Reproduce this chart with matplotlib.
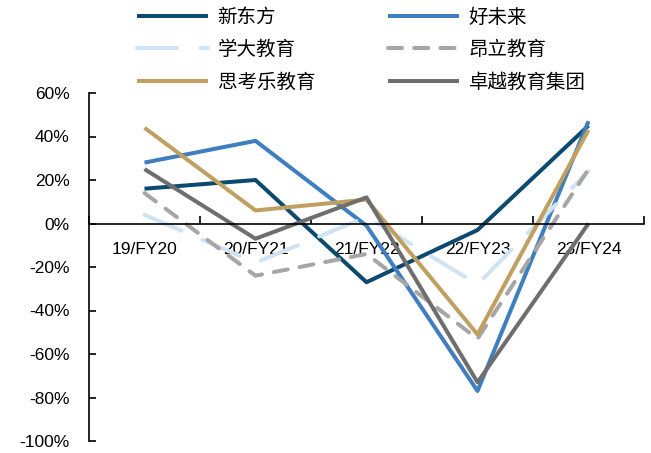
import matplotlib
matplotlib.use('Agg')
import matplotlib.pyplot as plt
from matplotlib.ticker import FixedLocator, FuncFormatter

plt.rcParams['font.family'] = ['Liberation Sans', 'DejaVu Sans']

categories = ['19/FY20', '20/FY21', '21/FY22', '22/FY23', '23/FY24']

xdf = [16, 20, -27, -3, 45]          # 新东方
tal = [28, 38, -1, -77, 47]          # 好未来
xueda = [4, -18, 3, -28, 24]         # 学大教育
angli = [14, -24, -14, -53, 25]      # 昂立教育
sikaole = [44, 6, 11, -51, 43]       # 思考乐教育
zhuoyue = [25, -7, 12, -73, 0]       # 卓越教育集团

names = ['新东方', '好未来', '学大教育', '昂立教育', '思考乐教育', '卓越教育集团']
series = [xdf, tal, xueda, angli, sikaole, zhuoyue]
colors = ['#0b4a6e', '#3f7fc0', '#d0e3f3', '#a6a6a6', '#c0a060', '#6e6e6e']
dashes = [None, None, (10, 5.7), (3.5, 3), None, None]

fig = plt.figure(figsize=(6.51, 4.53), dpi=100)
ax = fig.add_axes([89 / 651, 1 - 441 / 453, 555 / 651, 348 / 453])

x = list(range(len(categories)))
handles = []
for vals, name, col, dsh in zip(series, names, colors, dashes):
    line, = ax.plot(x, vals, color=col, lw=2.9, label=name,
                    solid_capstyle='butt', dash_capstyle='round')
    if dsh is not None:
        line.set_dashes(dsh)
    handles.append(line)

ax.set_xlim(-0.5, 4.5)
ax.set_ylim(-100, 60)
ax.set_yticks(range(-100, 61, 20))
ax.yaxis.set_major_formatter(FuncFormatter(lambda v, p: '%d%%' % v))
ax.tick_params(axis='y', direction='in', length=5, width=1.2, pad=14,
               labelsize=12.5, colors='black')

ax.set_xticks(x)
ax.set_xticklabels(categories)
ax.xaxis.set_minor_locator(FixedLocator([-0.5, 0.5, 1.5, 2.5, 3.5, 4.5]))
ax.tick_params(axis='x', which='major', length=0, pad=13.5, labelsize=12.5)
ax.tick_params(axis='x', which='minor', direction='in', length=6, width=1.2)

for s in ['top', 'right']:
    ax.spines[s].set_visible(False)
ax.spines['bottom'].set_position(('data', 0))
ax.spines['left'].set_linewidth(1.2)
ax.spines['bottom'].set_linewidth(1.2)

# legend fills row by row: 新东方 / 好未来, 学大 / 昂立, 思考乐 / 卓越
order = [0, 2, 4, 1, 3, 5]
fig.legend(handles=[handles[i] for i in order], loc='upper left',
           bbox_to_anchor=(137 / 651, 1 - 7 / 453),
           ncol=2, frameon=False, borderpad=0, borderaxespad=0,
           handlelength=3.65, handletextpad=0.5,
           columnspacing=3.75, labelspacing=0.58,
           prop={'family': ['Noto Sans CJK SC', 'DejaVu Sans'], 'size': 14})

fig.savefig('out.png', dpi=100)
